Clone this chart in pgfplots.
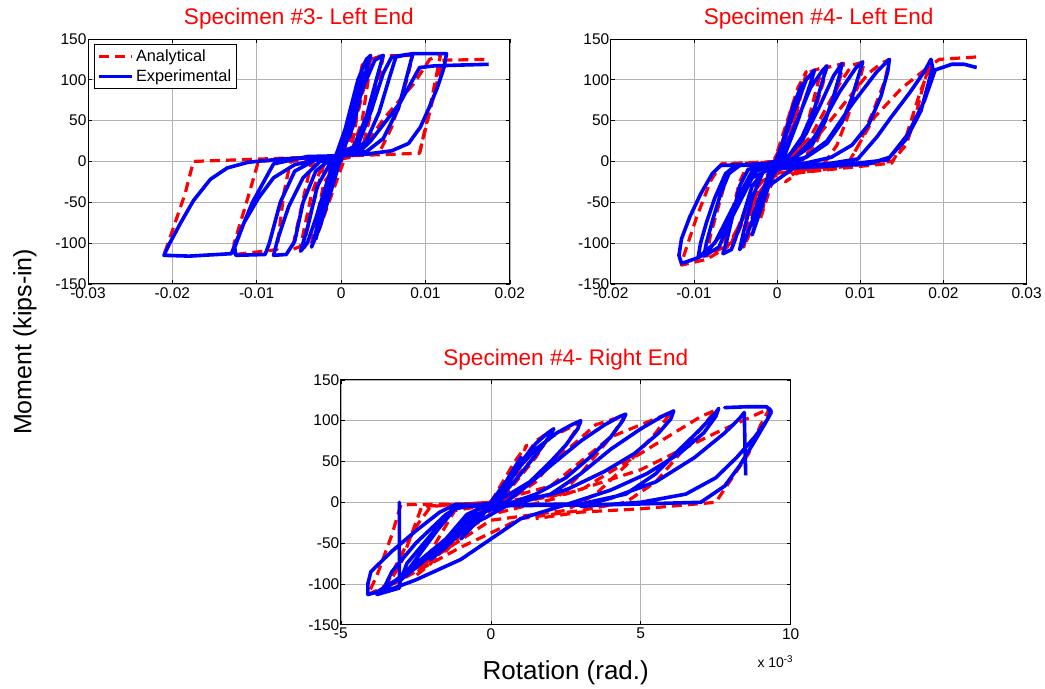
\documentclass[border=0pt]{standalone}
\usepackage{pgfplots}
\pgfplotsset{compat=1.18}
\usepackage{fontspec}
\setmainfont{Liberation Sans}

\pgfplotsset{
  hyst/.style={
    scale only axis, anchor=south west,
    height=245pt,
    ymin=-150, ymax=150,
    ytick={-150,-100,-50,0,50,100,150},
    yticklabels={-150,-100,-50,0,50,100,150},
    scaled x ticks=false,
    xmajorgrids, ymajorgrids,
    grid style={gray!60, line width=0.6pt},
    axis line style={line width=0.8pt},
    tick style={black, line width=0.6pt},
    tick align=inside, major tick length=4pt,
    ticklabel style={font=\fontsize{15.5}{18}\selectfont},
    yticklabel style={xshift=2pt},
    title style={font=\fontsize{22.6}{26}\selectfont, text=red, anchor=base, yshift=8pt},
    /pgf/number format/assume math mode=true,
  },
  ana/.style={red, line width=3.2pt, dash pattern=on 10pt off 6pt, line join=round},
  exp/.style={blue, line width=3.6pt, line join=round},
}

\begin{document}
\begin{tikzpicture}
\path (0pt,0pt) rectangle (1045pt,688pt);

% Specimen #3 - left end
\begin{axis}[hyst, at={(88pt,404pt)}, width=422pt,
  title={Specimen \#3- Left End},
  xmin=-0.03, xmax=0.02,
  xtick={-0.03,-0.02,-0.01,0,0.01,0.02},
  xticklabels={-0.03,-0.02,-0.01,0,0.01,0.02},
  legend style={at={(0,1)}, anchor=north west, xshift=6pt, yshift=-5pt,
    draw=black, line width=1pt, font=\fontsize{16.3}{19}\selectfont,
    inner sep=3pt, row sep=3pt},
  legend cell align=left,
  legend image code/.code={\draw[#1] (0pt,0pt) -- (33pt,0pt);},
]
\addplot[ana] coordinates {
(0,0) (0.002,95) (0.001,20) (-0.003,-95) (-0.0012,-5) (0.001,40) (0.0025,118)
(0.0035,128) (0.0025,90) (0.0012,15) (-0.002,-25) (-0.0035,-100) (-0.0045,-106)
(-0.0035,-60) (-0.002,-2) (0,4) (0.002,60) (0.0035,125) (0.005,130) (0.0045,100)
(0.0025,15) (-0.002,2) (-0.0035,-40) (-0.0048,-104) (-0.0058,-108) (-0.005,-70)
(-0.0036,-5) (0.001,5) (0.0025,50) (0.0035,120) (0.0045,129) (0.0085,130)
(0.0078,100) (0.006,42) (0.0045,10) (-0.006,0) (-0.0068,-40) (-0.0076,-108)
(-0.0125,-114) (-0.0127,-101) (-0.0112,-50) (-0.0098,0) (0.002,8) (0.0052,54)
(0.0086,95) (0.0105,125) (0.0118,131) (0.0112,100) (0.0103,55) (0.0093,10)
(-0.0175,0) (-0.0185,-40) (-0.0205,-100) (-0.021,-115)
};
\addlegendentry{Analytical}
\addplot[ana, forget plot] coordinates {
(0.0093,10) (0.0105,60) (0.0118,115) (0.012,124) (0.0175,125)
};
\addplot[exp] coordinates {
(0,0) (0.0015,70) (0.0025,110) (0.001,40) (-0.001,-30) (-0.0025,-80)
(-0.0035,-105) (-0.002,-50) (0,10) (0.001,45) (0.002,90) (0.0015,65) (0,8)
(-0.0015,-40) (-0.003,-95) (-0.0025,-65) (-0.0012,-10) (0.0005,40) (0.002,100)
(0.003,125) (0.0035,130) (0.003,112) (0.0015,45) (0,8) (-0.0015,-20)
(-0.003,-70) (-0.004,-100) (-0.0048,-110) (-0.004,-82) (-0.0028,-30) (-0.001,3)
(0.001,30) (0.0025,88) (0.004,124) (0.005,130) (0.0045,112) (0.003,55)
(0.0015,18) (-0.001,5) (-0.003,-12) (-0.0045,-50) (-0.0055,-98) (-0.0065,-114)
(-0.008,-115) (-0.0075,-95) (-0.0062,-55) (-0.0045,-20) (-0.0025,0) (0,5)
(0.002,20) (0.0035,60) (0.005,108) (0.006,128) (0.0085,132) (0.008,112)
(0.0068,65) (0.005,28) (0.003,12) (0,6) (-0.003,2) (-0.0055,-12) (-0.0072,-50)
(-0.0085,-100) (-0.009,-114) (-0.0125,-115) (-0.0126,-105) (-0.0115,-75)
(-0.0098,-45) (-0.008,-20) (-0.0055,-4) (-0.002,4) (0.001,8) (0.003,25)
(0.0045,60) (0.0058,105) (0.0065,128) (0.0085,132) (0.0125,132) (0.0122,115)
(0.0114,90) (0.0104,65) (0.0094,42) (0.008,22) (0.006,13) (0.003,9) (0,7)
(-0.004,6) (-0.008,-3) (-0.0105,-50) (-0.0125,-100) (-0.013,-113) (-0.018,-116)
(-0.021,-115) (-0.0203,-100) (-0.019,-75) (-0.0175,-48) (-0.0155,-22)
(-0.0135,-8) (-0.011,-1) (-0.007,3) (-0.003,5) (0,6) (0.002,10) (0.0035,25)
(0.005,45) (0.007,72) (0.0085,100) (0.0093,115) (0.011,117) (0.014,118)
(0.0175,119)
};
\addlegendentry{Experimental}
\end{axis}

% Specimen #4 - left end
\begin{axis}[hyst, at={(611pt,404pt)}, width=416pt,
  title={Specimen \#4- Left End},
  xmin=-0.02, xmax=0.03,
  xtick={-0.02,-0.01,0,0.01,0.02,0.03},
  xticklabels={-0.02,-0.01,0,0.01,0.02,0.03},
]
\addplot[ana] coordinates {
(0,0) (0.002,75) (0.0005,10) (-0.002,-70) (-0.0005,-5) (0.0025,90) (0.0035,110)
(0.003,90) (0.0015,30) (-0.0005,-8) (-0.0025,-70) (-0.004,-105) (-0.0035,-80)
(-0.002,-15) (-0.0005,0) (0.002,45) (0.0035,108) (0.006,117) (0.0055,95)
(0.004,45) (0.0025,10) (0,0) (-0.002,-10) (-0.004,-70) (-0.0055,-108)
(-0.0065,-113) (-0.006,-85) (-0.0045,-25) (-0.0035,-3) (0.002,0) (0.0035,40)
(0.005,100) (0.006,115) (0.008,120) (0.0075,100) (0.006,55) (0.0045,18)
(0.002,-5) (-0.0005,-8) (-0.003,-40) (-0.0055,-100) (-0.0085,-116) (-0.008,-90)
(-0.0065,-35) (-0.0055,-3) (0.001,0) (0.004,30) (0.0075,95) (0.009,118)
(0.0105,122) (0.0098,95) (0.0085,55) (0.0072,20) (0.0055,-5) (0.002,-12)
(-0.0005,-15) (-0.003,-50) (-0.006,-105) (-0.0085,-120) (-0.0115,-127)
(-0.0112,-115) (-0.0097,-69) (-0.008,-24) (-0.0067,-3) (0,0) (0.004,20)
(0.008,70) (0.011,108) (0.0125,120) (0.0135,125) (0.013,100) (0.0115,60)
(0.0098,20) (0.0085,-3) (0.005,-8) (0.002,-12) (-0.001,-20) (-0.003,-55)
(-0.002,-25) (0.001,-10) (0.004,-8) (0.0085,-3) (0.0117,54) (0.015,90)
(0.0181,115) (0.0185,125) (0.0175,90) (0.0165,50) (0.0155,20) (0.0138,0)
(0.009,-5) (0.004,-12) (0.002,-15) (0.001,-25) (0.0025,-14) (0.0138,-2)
(0.0155,30) (0.0172,85) (0.0185,118) (0.0195,125) (0.024,128)
};
\addplot[exp] coordinates {
(0,0) (0.002,70) (0.003,95) (0.002,60) (0,0) (-0.002,-60) (-0.003,-90)
(-0.002,-55) (0,5) (0.002,60) (0.0035,100) (0.0045,112) (0.004,95) (0.0025,50)
(0.001,10) (-0.001,-15) (-0.0025,-60) (-0.004,-100) (-0.0045,-108) (-0.004,-85)
(-0.003,-45) (-0.0015,-8) (0.0005,5) (0.002,40) (0.004,90) (0.0055,112)
(0.006,117) (0.0055,100) (0.0045,65) (0.003,30) (0.0015,8) (-0.001,-5)
(-0.003,-30) (-0.0045,-80) (-0.0055,-108) (-0.0065,-113) (-0.006,-95)
(-0.0052,-60) (-0.0045,-30) (-0.0035,-10) (-0.0015,-3) (0.001,3) (0.003,25)
(0.005,65) (0.0068,105) (0.0078,120) (0.0075,105) (0.0068,80) (0.0058,50)
(0.0042,20) (0.002,4) (-0.001,-3) (-0.003,-15) (-0.0055,-70) (-0.007,-105)
(-0.0088,-116) (-0.0085,-100) (-0.0077,-70) (-0.0068,-40) (-0.0058,-15)
(-0.0045,-5) (-0.001,-3) (0.002,3) (0.0045,30) (0.0075,85) (0.0095,115)
(0.0103,122) (0.0098,105) (0.009,78) (0.0078,48) (0.006,22) (0.0035,5)
(0,-3) (-0.003,-12) (-0.0055,-60) (-0.0075,-100) (-0.0095,-118) (-0.0115,-125)
(-0.0118,-115) (-0.0115,-95) (-0.0105,-68) (-0.0092,-40) (-0.0078,-15)
(-0.0068,-5) (-0.004,-4) (0,-2) (0.003,2) (0.006,25) (0.009,70) (0.012,110)
(0.0135,125) (0.0133,110) (0.0125,80) (0.011,45) (0.009,20) (0.0065,5)
(0.003,-3) (0,-5) (-0.003,-20) (-0.006,-80) (-0.0085,-112) (-0.0095,-118)
(-0.0092,-100) (-0.0085,-75) (-0.0075,-45) (-0.0062,-15) (-0.005,-5)
(-0.002,-4) (0.002,-5) (0.006,-3) (0.0097,3) (0.012,30) (0.0137,54)
(0.016,85) (0.0177,110) (0.0185,125) (0.0187,115) (0.0183,100) (0.0173,62)
(0.0155,27) (0.0135,5) (0.011,-3) (0.006,-6) (0.002,-8) (-0.001,-30)
(-0.003,-70) (-0.002,-40) (0,-10) (0.002,-6) (0.008,-4) (0.0133,2)
(0.0157,33) (0.0177,74) (0.019,112) (0.021,119) (0.0225,119) (0.024,115)
};
\end{axis}

% Specimen #4 - right end (rotation in units of 1e-3 rad)
\begin{axis}[hyst, name=ax3, at={(341pt,63pt)}, width=450pt,
  title={Specimen \#4- Right End},
  xmin=-5, xmax=10,
  xtick={-5,0,5,10},
  xticklabels={-5,0,5,10},
  xlabel={Rotation (rad.)},
  xlabel style={font=\fontsize{26}{30}\selectfont, at={(axis description cs:0.5,0)}, anchor=base, yshift=-55pt},
]
\addplot[ana] coordinates {
(0,0) (0.8,50) (1.2,70) (0.8,40) (0,0) (-0.8,-35) (-0.3,-10) (0.5,20) (1.5,75)
(2.1,90) (1.5,55) (0.5,10) (-0.5,-20) (-1.5,-60) (-1.0,-30) (0,0) (1.2,45)
(2.0,80) (3.0,98) (2.5,70) (1.5,25) (0.5,0) (-1,-30) (-2,-75) (-2.5,-90)
(-2.0,-60) (-1.2,-10) (0.5,0) (1.8,40) (3.5,95) (4.5,107) (4.0,80) (3.0,35)
(2.2,5) (0,-15) (-1.5,-50) (-3.0,-95) (-3.5,-105) (-3.0,-75) (-2.3,-5) (0,0)
(2,20) (4,80) (6,110) (5.5,85) (4.5,45) (3.5,10) (2.5,-10) (0,-22) (-2,-70)
(-3.8,-108) (-4.1,-113) (-3.8,-90) (-3.3,-40) (-3.0,-3) (-1.0,-2) (1,0) (3,15)
(5,60) (7,105) (7.5,113) (7.0,90) (6.2,55) (5.5,25) (4.5,0) (3,-10) (1,-20)
(-1,-55) (-3,-95) (-3.5,-103) (-3.2,-80) (-2.5,-30) (-2.0,-5) (0,0) (2.5,10)
(5,40) (7.5,85) (9.3,115) (9.0,95) (8.6,60) (7.5,0) (5,-8) (3,-12) (1.5,-20)
};
\addplot[exp] coordinates {
(0,0) (0.5,25) (1.0,55) (0.6,30) (0,0) (-0.5,-25) (-1.0,-45) (-0.5,-25) (0.2,5)
(0.8,40) (1.5,72) (1.9,85) (2.1,90) (1.9,78) (1.5,58) (1.0,35) (0.3,5)
(-0.5,-20) (-1.5,-55) (-2.0,-70) (-1.5,-45) (-0.8,-15) (0.2,3) (0.6,25)
(1.0,45) (1.5,65) (2.2,85) (2.7,95) (3.0,100) (2.9,90) (2.5,70) (2.0,50)
(1.3,25) (0.3,3) (-0.5,-10) (-1.5,-45) (-2.5,-80) (-3.0,-95) (-2.6,-75)
(-1.8,-35) (-1.2,-8) (-0.5,-3) (0.5,0) (1.2,20) (2.0,45) (3.0,75) (3.8,95)
(4.3,105) (4.5,108) (4.4,100) (4.0,80) (3.3,55) (2.5,30) (1.5,10) (0.5,-3)
(-0.5,-15) (-2,-60) (-3.3,-100) (-3.6,-108) (-3.3,-85) (-2.5,-50) (-1.5,-15)
(-1.0,-4) (0.5,-3) (2,10) (3.0,35) (4.0,65) (5.0,90) (5.7,105) (6.1,112)
(6.0,102) (5.6,85) (4.8,60) (3.8,38) (2.5,15) (1.5,5) (0.5,-5) (-1,-35)
(-2.5,-80) (-3.8,-110) (-4.1,-113) (-4.1,-100) (-4.0,-85) (-3.3,-60)
(-2.5,-35) (-1.7,-12) (-1.2,-3) (1,-3) (3,-2) (4.5,10) (5.5,35) (6.3,65)
(7.0,90) (7.5,110) (7.6,115) (7.5,105) (7.1,85) (6.3,60) (5.2,35) (4,15)
(2.5,-3) (1.0,-20) (0,-45) (-1,-70) (-2.5,-95) (-3.8,-113) (-3.05,-105)
(-3.05,0) (-3.05,-100) (-2.8,-75) (-2.0,-40) (-1.2,-5) (1,-4) (4,-3) (7.0,0)
(7.8,20) (8.3,45) (8.8,75) (9.2,100) (9.35,112) (9.2,117) (8.5,117) (7.8,116)
(8.5,117) (9.2,117) (9.35,110) (9.2,100) (8.8,80) (8.2,55) (7.5,30) (6.5,10)
(5,0) (3,-5) (4,5) (5.5,25) (6.8,55) (7.8,85) (8.3,103) (8.45,110) (8.5,33)
};
\end{axis}
\node[anchor=base east, font=\fontsize{14}{16}\selectfont] at ([xshift=6pt, yshift=-43pt]ax3.south east) {x 10\textsuperscript{-3}};

\node[rotate=90, font=\fontsize{25}{30}\selectfont] at (25pt,346pt) {Moment (kips-in)};
\end{tikzpicture}
\end{document}
